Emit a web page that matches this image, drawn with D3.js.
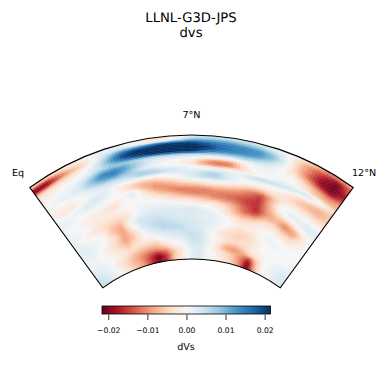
<!DOCTYPE html>
<html>
<head>
<meta charset="utf-8">
<script src="https://cdn.jsdelivr.net/npm/d3@7"></script>
<style>
  html, body { margin: 0; background: #fff; }
  svg { display: block; }
  text { font-family: "DejaVu Sans", sans-serif; fill: #000; text-rendering: geometricPrecision; }
</style>
</head>
<body>
<svg width="389" height="385"></svg>
<script>
// latitude of each column, degrees
var lats = [0,0.5,1,1.5,2,2.5,3,3.5,4,4.5,5,5.5,6,6.5,7,7.5,8,8.5,9,9.5,10,10.5,11,11.5,12];
// depth of each row, km
var depths = [35,105,175,245,315,385,455,525,595,665,735,805,885,980,1070,1165,1260,1350,1445,1540,1630,1725,1815,1910,2005,2095,2190,2285,2375,2470,2565,2655,2750,2845];
// dVs, in thousandths, one row per depth
var dvs = [
  [-4,-4,-3,-2,-1,1,2,1,-2,-3,-3,-1,3,4,4,4,4,3,2,0,-3,-6,-10,-10,-8],
  [-17,-16,-10,-5,-3,1,3,3,1,-1,-1,3,9,10,10,9,8,7,4,1,-5,-10,-14,-17,-13],
  [-21,-21,-14,-8,-5,1,7,13,15,17,20,20,20,17,15,14,13,12,8,1,-6,-12,-17,-21,-13],
  [-10,-10,-7,-5,-2,2,10,19,22,22,22,22,22,21,17,15,14,13,9,2,-6,-12,-19,-21,-16],
  [-3,-3,-3,-2,0,4,12,20,22,22,22,22,22,21,17,15,14,12,7,1,-6,-13,-20,-21,-18],
  [-2,-2,-1,-1,1,4,9,14,18,21,22,22,21,15,12,11,10,8,4,0,-5,-11,-18,-21,-16],
  [-2,-1,0,1,3,7,8,7,6,5,6,6,5,5,4,4,5,4,2,0,-3,-8,-14,-18,-13],
  [-1,0,1,2,6,12,13,11,6,3,2,2,1,0,-2,-3,-1,1,1,0,-1,-5,-9,-12,-10],
  [0,1,1,3,8,14,15,11,6,2,0,-1,-2,-8,-11,-10,-3,1,1,0,0,-3,-7,-9,-8],
  [1,1,2,3,8,12,13,9,4,1,0,-1,-3,-9,-12,-11,-4,0,0,1,0,-2,-5,-6,-7],
  [0,0,1,2,5,8,8,7,6,5,2,2,0,-2,-4,-3,-3,-2,0,2,3,4,3,-1,-4],
  [-1,-1,-1,1,3,4,4,5,8,7,5,3,2,2,3,2,2,5,6,5,3,1,0,-3,-6],
  [-2,-2,-2,0,1,2,1,1,1,1,1,2,3,6,7,3,1,2,1,0,-1,-4,-6,-7,-6],
  [-1,-2,-2,1,3,2,-2,-4,-6,-5,-2,0,3,5,6,3,0,-1,-2,-2,-3,-6,-7,-8,-6],
  [1,0,1,3,3,1,-1,-5,-8,-9,-7,-4,-2,-1,0,-1,-3,-6,-7,-4,-3,-4,-5,-6,-5],
  [2,1,1,2,1,0,0,3,-6,-10,-10,-8,-7,-6,-5,-6,-8,-11,-14,-8,-2,-1,-2,-3,-3],
  [2,1,0,0,-1,-2,-1,2,-2,-7,-10,-12,-11,-11,-10,-10,-11,-13,-16,-7,0,1,0,0,0],
  [1,0,-1,-2,-2,-4,-1,0,-1,-3,-6,-9,-11,-11,-11,-12,-13,-15,-16,-8,-1,2,2,2,1],
  [1,0,-1,-2,-2,-2,0,0,0,-1,-3,-5,-6,-8,-10,-11,-12,-15,-16,-9,-4,-1,1,3,2],
  [1,1,0,-2,-2,-2,-1,1,1,1,0,-1,-2,-4,-4,-6,-9,-13,-17,-10,-7,-7,-3,1,2],
  [1,1,-1,-3,-4,-4,-2,1,2,2,2,1,1,0,-1,-3,-7,-13,-14,-8,-7,-11,-8,-2,0],
  [2,0,-2,-3,-5,-6,-3,2,3,3,3,3,3,2,0,-2,-6,-9,-8,-4,-4,-8,-9,-3,0],
  [2,1,0,-1,-6,-8,1,4,4,4,3,3,3,3,2,0,-3,-5,-4,-2,-2,-4,-5,-2,0],
  [2,2,1,0,-6,-9,-1,4,5,5,4,3,3,2,2,1,-1,-3,-2,-1,0,-2,-3,-1,0],
  [2,2,1,0,-4,-9,-3,3,5,6,5,4,3,3,2,1,0,-2,-2,-1,1,0,-1,0,0],
  [2,2,1,-1,-4,-9,-5,1,4,6,6,5,4,3,2,0,-2,-4,-3,-1,1,1,0,0,0],
  [1,2,0,-2,-5,-9,-5,0,2,4,5,5,4,3,1,-2,-4,-5,-5,-2,0,1,0,0,0],
  [1,1,0,-2,-4,-7,-4,-1,0,2,3,4,5,4,1,-2,-4,-5,-4,-2,0,0,0,0,1],
  [1,1,0,-1,-3,-5,-3,-3,-3,1,2,3,5,4,1,-1,-3,-4,-4,-2,0,0,0,0,1],
  [2,2,1,0,-2,-4,-5,-6,-6,-2,0,1,4,4,1,-2,-6,-7,-5,-2,-1,0,0,1,1],
  [3,2,1,-1,-3,-6,-8,-9,-9,-6,-2,0,3,4,1,-3,-9,-10,-8,-4,-2,0,1,2,2],
  [4,3,1,-2,-4,-7,-10,-13,-14,-11,-5,-2,2,3,0,-2,-5,-7,-10,-14,-5,0,1,3,3],
  [5,4,2,0,-4,-7,-10,-15,-21,-15,-6,-2,2,3,0,-1,-3,-6,-11,-20,-6,0,1,3,4],
  [5,4,2,0,-3,-6,-9,-15,-21,-16,-5,-2,2,3,0,-1,-3,-5,-10,-21,-8,0,1,3,4]
];
var cbarTicks = [-0.02,-0.01,0,0.01,0.02];
var vmin = -0.0216, vmax = 0.0215;

var cx = 191.5, cy = 410;
var svg = d3.select("svg");

var angle = d3.scaleLinear().domain([0,12]).range([-36,36].map(function(d){ return d*Math.PI/180; }));
var radius = d3.scaleLinear().domain([0,2891]).range([275,151]);

// matplotlib RdBu: brewer stops, straight lines between them
var stops = d3.schemeRdBu[11];
var color = d3.scaleLinear()
    .domain(d3.range(11).map(function(i){ return vmin+(vmax-vmin)*i/10; }))
    .range(stops)
    .clamp(true);

var arc = d3.arc();
var wedge = arc({innerRadius:radius(2891), outerRadius:radius(0), startAngle:angle(0), endAngle:angle(12)});

svg.append("clipPath").attr("id","wedge").append("path").attr("d",wedge);

// shaded mesh: each cell between four read values is split up, like gouraud shading
var latSplit = 4, depthSplit = 2;
var cells = [];
for (var r=-1; r<depths.length; r++){
  var r0 = Math.max(r,0), r1 = Math.min(r+1,depths.length-1);
  var d0 = r<0 ? 0 : depths[r], d1 = r+1>=depths.length ? 2891 : depths[r+1];
  for (var c=0; c<lats.length-1; c++){
    for (var i=0; i<latSplit; i++){
      for (var j=0; j<depthSplit; j++){
        var u=(i+0.5)/latSplit, v=(j+0.5)/depthSplit;
        var upper = dvs[r0][c]*(1-u)+dvs[r0][c+1]*u;
        var lower = dvs[r1][c]*(1-u)+dvs[r1][c+1]*u;
        cells.push({
          lat0: lats[c]+(lats[c+1]-lats[c])*i/latSplit,
          lat1: lats[c]+(lats[c+1]-lats[c])*(i+1)/latSplit,
          dep0: d0+(d1-d0)*j/depthSplit,
          dep1: d0+(d1-d0)*(j+1)/depthSplit,
          value: (upper*(1-v)+lower*v)/1000
        });
      }
    }
  }
}

var plot = svg.append("g").attr("transform","translate("+cx+","+cy+")");
plot.append("g").attr("clip-path","url(#wedge)")
  .selectAll("path").data(cells).enter().append("path")
  .attr("d",function(d){
    return arc({innerRadius:radius(d.dep1), outerRadius:radius(d.dep0), startAngle:angle(d.lat0), endAngle:angle(d.lat1)});
  })
  .attr("fill",function(d){ return color(d.value); })
  .attr("stroke",function(d){ return color(d.value); })
  .attr("stroke-width",0.5);

plot.append("path").attr("d",wedge)
  .attr("fill","none").attr("stroke","#000").attr("stroke-width",1.1);

// titles and tick labels
svg.append("text").attr("x",191).attr("y",22).attr("text-anchor","middle").attr("font-size",13.2).text("LLNL-G3D-JPS");
svg.append("text").attr("x",191).attr("y",36.5).attr("text-anchor","middle").attr("font-size",13.2).text("dvs");
svg.append("text").attr("x",12).attr("y",176).attr("font-size",9.6).text("Eq");
svg.append("text").attr("x",191.5).attr("y",118).attr("text-anchor","middle").attr("font-size",9.6).text("7°N");
svg.append("text").attr("x",352).attr("y",176).attr("font-size",9.6).text("12°N");

// colorbar
var grad = svg.append("linearGradient").attr("id","cbar");
grad.selectAll("stop").data(stops).enter().append("stop")
  .attr("offset",function(d,i){ return (i*10)+"%"; })
  .attr("stop-color",function(d){ return d; });

var x = d3.scaleLinear().domain([vmin,vmax]).range([102,270.5]);
svg.append("rect").attr("x",102).attr("y",306).attr("width",168.5).attr("height",8)
  .attr("fill","url(#cbar)").attr("stroke","#000").attr("stroke-width",0.8);

var axis = d3.axisBottom(x).tickValues(cbarTicks).tickSize(5.5).tickPadding(8)
  .tickFormat(function(d){ return d3.format(".2f")(d).replace("-","\u2212"); });
var ag = svg.append("g").attr("transform","translate(0,314.5)").call(axis);
ag.select(".domain").remove();
ag.selectAll("text").attr("font-size",7.6).attr("font-family","DejaVu Sans");
ag.selectAll("line").attr("stroke","#000").attr("stroke-width",0.8);

svg.append("text").attr("x",186).attr("y",350).attr("text-anchor","middle").attr("font-size",9.6).text("dVs");
</script>
</body>
</html>
